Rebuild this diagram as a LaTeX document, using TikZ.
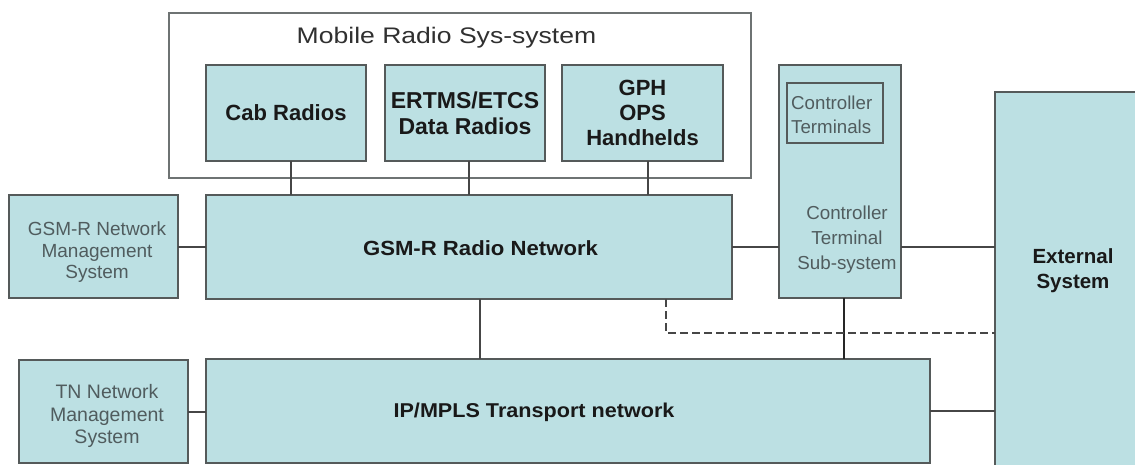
\documentclass[tikz,border=0pt]{standalone}
\usepackage{fontspec}
\setmainfont{Liberation Sans}
\usepackage{graphicx}
\definecolor{boxfill}{RGB}{188,224,227}
\definecolor{boxline}{RGB}{85,90,90}
\definecolor{conline}{RGB}{70,70,70}
\definecolor{graytext}{RGB}{80,92,94}
\definecolor{darktext}{RGB}{25,25,25}
\begin{document}
\begin{tikzpicture}[x=1pt,y=-1pt,
  box/.style={draw=boxline, line width=1.4pt, fill=boxfill, anchor=north west, inner sep=0pt, outer sep=0pt},
  conn/.style={draw=conline, line width=2pt},
  boldlbl/.style={text=darktext, font=\fontsize{22}{25}\selectfont\bfseries, align=center},
  smalllbl/.style={text=graytext, font=\fontsize{19}{21.5}\selectfont, align=center}]
\useasboundingbox[fill=white] (0,0) rectangle (1135,465);

% boxes
\node[box, fill=white, draw=boxline!85, minimum width=582pt, minimum height=165pt] (mrs) at (169,13) {};
\node[box, boldlbl, minimum width=160pt, minimum height=96pt] (cab) at (206,65) {Cab Radios};
\node[box, boldlbl, font=\fontsize{23}{26}\selectfont\bfseries, minimum width=160pt, minimum height=96pt] (ertms) at (385,65) {ERTMS/ETCS\\Data Radios};
\node[box, boldlbl, minimum width=161pt, minimum height=96pt] (gph) at (562,65) {GPH\\OPS\\Handhelds};
\node[box, minimum width=526pt, minimum height=104pt] (gsmr) at (206,195) {};
\node[box, minimum width=169pt, minimum height=103pt] (gnms) at (9,195) {};
\node[box, minimum width=122pt, minimum height=233pt] (cts) at (779,65) {};
\node[box, minimum width=96pt, minimum height=60pt] (ct) at (787,83) {};
\node[box, minimum width=160pt, minimum height=380pt] (ext) at (995,92) {};
\node[box, minimum width=724pt, minimum height=104pt] (ip) at (206,359) {};
\node[box, minimum width=169pt, minimum height=103pt] (tnms) at (19,360) {};

% labels
\node[anchor=base, text=darktext!90, font=\fontsize{22.5}{26}\selectfont] (title) at (446.5,44) {\scalebox{1.18}[1]{Mobile Radio Sys-system}};
\node[anchor=base, text=darktext, font=\fontsize{20.5}{24}\selectfont\bfseries] (gsmrlbl) at (480.5,255) {\scalebox{1.08}[1]{GSM-R Radio Network}};
\node[anchor=base, text=darktext, font=\fontsize{20}{24}\selectfont\bfseries] (iplbl) at (534,417) {\scalebox{1.08}[1]{IP/MPLS Transport network}};
\node[boldlbl, font=\fontsize{20.5}{25}\selectfont\bfseries] (extlbl) at (1073,271) {External\\System};
\node[smalllbl] (gnmslbl) at (97,252.5) {GSM-R Network\\Management\\System};
\node[smalllbl, font=\fontsize{19.5}{22.5}\selectfont] (tnmslbl) at (107,416) {TN Network\\Management\\System};
\node[smalllbl, align=left, anchor=west, inner sep=0pt, font=\fontsize{18.7}{23.7}\selectfont] (ctlbl) at (791,115) {Controller\\Terminals};
\node[smalllbl, font=\fontsize{18.8}{25}\selectfont] (ctslbl) at (847,240) {Controller\\Terminal\\Sub-system};

% connectors
\draw[conn] ([xshift=5pt]cab.south) -- ([xshift=5pt]cab.south |- gsmr.north);
\draw[conn] ([xshift=4pt]ertms.south) -- ([xshift=4pt]ertms.south |- gsmr.north);
\draw[conn] ([xshift=5.5pt]gph.south) -- ([xshift=5.5pt]gph.south |- gsmr.north);
\draw[conn] (gnms.east) -- (gnms.east -| gsmr.west);
\draw[conn] (gsmr.east) -- (gsmr.east -| cts.west);
\draw[conn] (cts.east |- gsmr.east) -- (ext.west |- gsmr.east);
\draw[conn] ([xshift=11pt]gsmr.south) -- ([xshift=11pt]gsmr.south |- ip.north);
\draw[conn, draw=black!85] ([xshift=4pt]cts.south) -- ([xshift=4pt]cts.south |- ip.north);
\draw[conn] (tnms.east) -- (tnms.east -| ip.west);
\draw[conn] (ip.east) -- (ip.east -| ext.west);
\coordinate (dk) at (666,333);
\draw[conn, line width=1.5pt, dash pattern=on 8pt off 4pt] ([xshift=197pt]gsmr.south) |- (ext.west |- dk);
\end{tikzpicture}
\end{document}
